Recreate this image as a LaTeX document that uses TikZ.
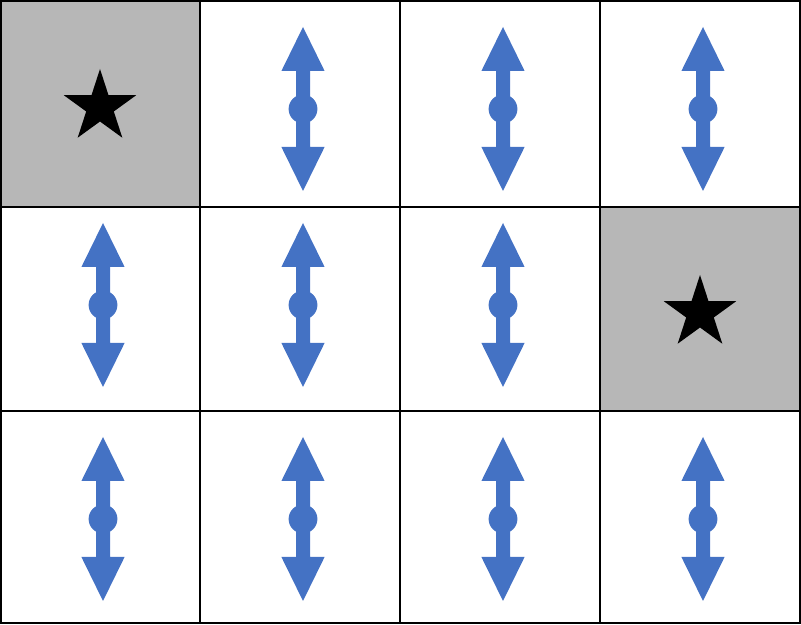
\documentclass[tikz,border=0pt]{standalone}
\usepackage{tikz}
\usetikzlibrary{shapes.geometric}
\definecolor{cArrow}{RGB}{68,114,196}
\definecolor{cGoal}{RGB}{183,183,183}

\tikzset{
  gridline/.style={line width=1.2pt, line cap=rect},
  goal/.style={star, star points=5, star point ratio=2.618, fill=black,
    inner sep=0pt, minimum size=1.9cm},
  pics/updown/.style={code={
    \fill[cArrow] (0,2.05) -- (0.54,0.95) -- (0.175,0.95) -- (0.175,-0.95)
      -- (0.54,-0.95) -- (0,-2.05) -- (-0.54,-0.95) -- (-0.175,-0.95)
      -- (-0.175,0.95) -- (-0.54,0.95) -- cycle;
    \fill[cArrow] (0,0) circle (0.36);
  }}
}

\begin{document}
\begin{tikzpicture}
    \useasboundingbox (0,0) rectangle (20.025,15.625);

    % --- goal cells ---
    \fill[cGoal] (0.025,10.45) rectangle (5,15.6);
    \fill[cGoal] (15,5.35) rectangle (20,10.45);

    % --- grid ---
    \foreach \x in {0.025,5,10,15,20}
        \draw[gridline] (\x,0.05) -- (\x,15.6);
    \foreach \y in {0.05,5.35,10.45,15.6}
        \draw[gridline] (0.025,\y) -- (20,\y);

    % --- stars ---
    \node[goal] (goalA) at (2.5,12.95) {};
    \node[goal] (goalB) at (17.5,7.8) {};

    % --- up/down moves ---
    \foreach \c/\y in {1/12.9, 2/12.9, 3/12.9,
                       0/8.0, 1/8.0, 2/8.0,
                       0/2.65, 1/2.65, 2/2.65, 3/2.65}
        \pic at ({5*\c+2.575},\y) {updown};

\end{tikzpicture}
\end{document}
